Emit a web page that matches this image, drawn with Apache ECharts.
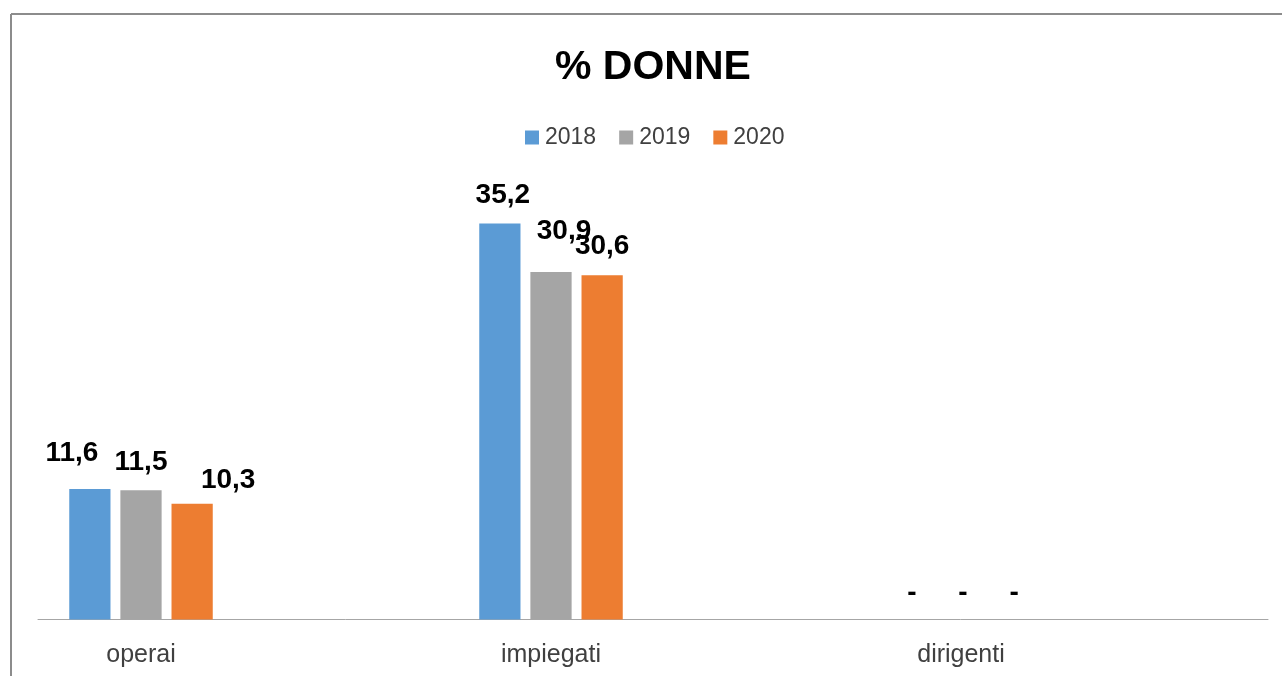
<!DOCTYPE html>
<html>
<head>
<meta charset="utf-8">
<script src="https://cdn.jsdelivr.net/npm/echarts@6/dist/echarts.min.js"></script>
<style>
html,body{margin:0;padding:0;background:#fff;overflow:hidden;}
#wrap{position:relative;width:1282px;height:676px;overflow:hidden;}
#chart{position:absolute;left:-65px;top:0;width:1347px;height:676px;}
</style>
</head>
<body>
<div id="wrap"><div id="chart"></div></div>
<script>
const categories = ['operai', 'impiegati', 'dirigenti'];
const seriesNames = ['2018', '2019', '2020'];
const values2018 = [11.6, 35.2, 0];
const values2019 = [11.5, 30.9, 0];
const values2020 = [10.3, 30.6, 0];
const colors = ['#5B9BD5', '#A5A5A5', '#ED7D31'];

// manual label nudges (as in the original), [dx, dy] per category for each series
const labelNudges = [
  [[-18, -22], [3, -14], [2, -12]],
  [[0, -14], [13, -27], [2, -12]],
  [[36, -9], [0, -15], [2, -12]]
];

const allValues = [values2018, values2019, values2020];

const SHIFT = 65; // canvas is shifted left by this amount
const chart = echarts.init(document.getElementById('chart'), null, {renderer: 'canvas'});
const fmt = v => v === 0 ? '-' : v.toFixed(1).replace('.', ',');

const series = allValues.map((vals, si) => ({
  name: seriesNames[si],
  type: 'bar',
  xAxisIndex: 0,
  yAxisIndex: 0,
  barGap: '24%',
  barCategoryGap: '65%',
  itemStyle: {color: colors[si]},
  data: vals.map((v, ci) => ({
    value: v,
    label: {offset: labelNudges[si][ci]}
  })),
  label: {
    show: true,
    position: 'top',
    distance: 0,
    formatter: p => fmt(p.value),
    fontFamily: 'Liberation Sans',
    fontWeight: 'bold',
    fontSize: 28,
    lineHeight: 28,
    color: '#000'
  }
}));

chart.setOption({
  animation: false,
  backgroundColor: '#fff',
  title: {
    text: '% DONNE',
    left: 550 + SHIFT,
    top: 42,
    textStyle: {fontFamily: 'Liberation Sans', fontWeight: 'bold', fontSize: 41, color: '#000'}
  },
  legend: {
    data: seriesNames,
    top: 121,
    left: 520 + SHIFT,
    itemWidth: 14,
    itemHeight: 14,
    itemGap: 23,
    icon: 'rect',
    textStyle: {fontFamily: 'Liberation Sans', fontSize: 23, color: '#404040', padding: [0, 0, 0, 1]}
  },
  grid: [
    {left: 1, right: 116, top: 169.5, bottom: 56.5, containLabel: false},
    {left: 38 + SHIFT, right: 14, top: 169.5, bottom: 56.5, containLabel: false}
  ],
  xAxis: [
    {
      type: 'category',
      gridIndex: 0,
      data: categories,
      axisLine: {show: false},
      axisTick: {show: false},
      axisLabel: {fontFamily: 'Liberation Sans', fontSize: 25, color: '#404040', margin: 23}
    },
    {
      type: 'category',
      gridIndex: 1,
      data: [''],
      axisLine: {lineStyle: {color: '#A6A6A6', width: 1}},
      axisTick: {show: false},
      axisLabel: {show: false}
    }
  ],
  yAxis: [
    {type: 'value', gridIndex: 0, min: 0, max: 40, show: false, splitLine: {show: false}},
    {type: 'value', gridIndex: 1, min: 0, max: 40, show: false, splitLine: {show: false}}
  ],
  graphic: [
    {type: 'line', shape: {x1: 11 + SHIFT, y1: 14, x2: 1347, y2: 14}, style: {stroke: '#8C8C8C', lineWidth: 2}},
    {type: 'line', shape: {x1: 11 + SHIFT, y1: 14, x2: 11 + SHIFT, y2: 676}, style: {stroke: '#8C8C8C', lineWidth: 2}}
  ],
  series: series
});
</script>
</body>
</html>
